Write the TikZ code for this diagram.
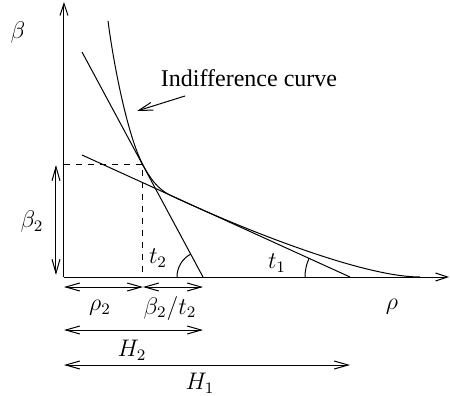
\documentclass[tikz,border=0pt]{standalone}
\usepackage{fontspec}
\setmainfont{Liberation Serif}
\usepackage{tikz}
\usetikzlibrary{arrows.meta}

\begin{document}
\begin{tikzpicture}[
    x=0.5pt, y=0.5pt,
    font=\fontsize{12}{14}\selectfont,
    line width=0.5pt,
    axis/.style={-{Straight Barb[length=6pt,width=4pt]}},
    dim/.style={{Straight Barb[length=7pt,width=4pt]}-{Straight Barb[length=7pt,width=4pt]}},
    pointer/.style={-{Straight Barb[length=7pt,width=4pt]}}
  ]
    \useasboundingbox (-64,-119) rectangle (386,277);
    % axes and tangent point
    \coordinate (O) at (0,0);
    \coordinate (ytop) at (0,275);
    \coordinate (xend) at (385,0);
    \coordinate (T) at (79,112);
    \coordinate (Ty) at (0,112);
    \coordinate (Tx) at (79,0);
    \coordinate (steepA) at (18,225);
    \coordinate (steepB) at (139,0);
    \coordinate (flatA) at (18,122);
    \coordinate (flatB) at (286,0);
    \draw[axis] (O) -- (ytop);
    \draw[axis] (O) -- (xend);
    \draw[dashed] (Ty) -- (T) -- (Tx);
    \draw (steepA) -- (steepB);
    \draw (flatA) -- (flatB);
    % indifference curve
    \draw (44,256) .. controls (50,210) and (64,140) .. (T)
      .. controls (89,93) and (98,85) .. (110,80)
      .. controls (170,52) and (296,0) .. (356,0);
    % angles
    \draw (steepB) ++(180:13pt) arc[start angle=180, end angle=118.3, radius=13pt];
    \draw (flatB) ++(180:22.5pt) arc[start angle=180, end angle=155.5, radius=22.5pt];
    \node (t2) at (94,19) {$t_2$};
    \node (t1) at (213,14) {$t_1$};
    \node (beta) at (-46,244) {$\beta$};
    \node (rho) at (328,-30) {$\rho$};
    \node (curve) at (185,199) {Indifference curve};
    \coordinate (curvetail) at (121,181);
    \coordinate (curvehead) at (73,166);
    \draw[pointer] (curvetail) -- (curvehead);
    % dimensions
    \coordinate (b2top) at (-8,112);
    \coordinate (b2bot) at (-8,2);
    \draw[dim] (b2top) -- (b2bot);
    \node (beta2) at (-32,55) {$\beta_2$};
    \coordinate (r2l) at (0,-10);
    \coordinate (r2r) at (79,-10);
    \coordinate (q2r) at (139,-10);
    \draw[dim] (r2l) -- (r2r);
    \draw[dim] (r2r) -- (q2r);
    \node (rho2) at (36,-31) {$\rho_2$};
    \node (ratio) at (106,-31) {$\beta_2/t_2$};
    \coordinate (h2l) at (0,-53);
    \coordinate (h2r) at (139,-53);
    \draw[dim] (h2l) -- (h2r);
    \node (H2) at (68,-73) {$H_2$};
    \coordinate (h1l) at (0,-88);
    \coordinate (h1r) at (286,-88);
    \draw[dim] (h1l) -- (h1r);
    \node (H1) at (136,-106) {$H_1$};
\end{tikzpicture}
\end{document}
